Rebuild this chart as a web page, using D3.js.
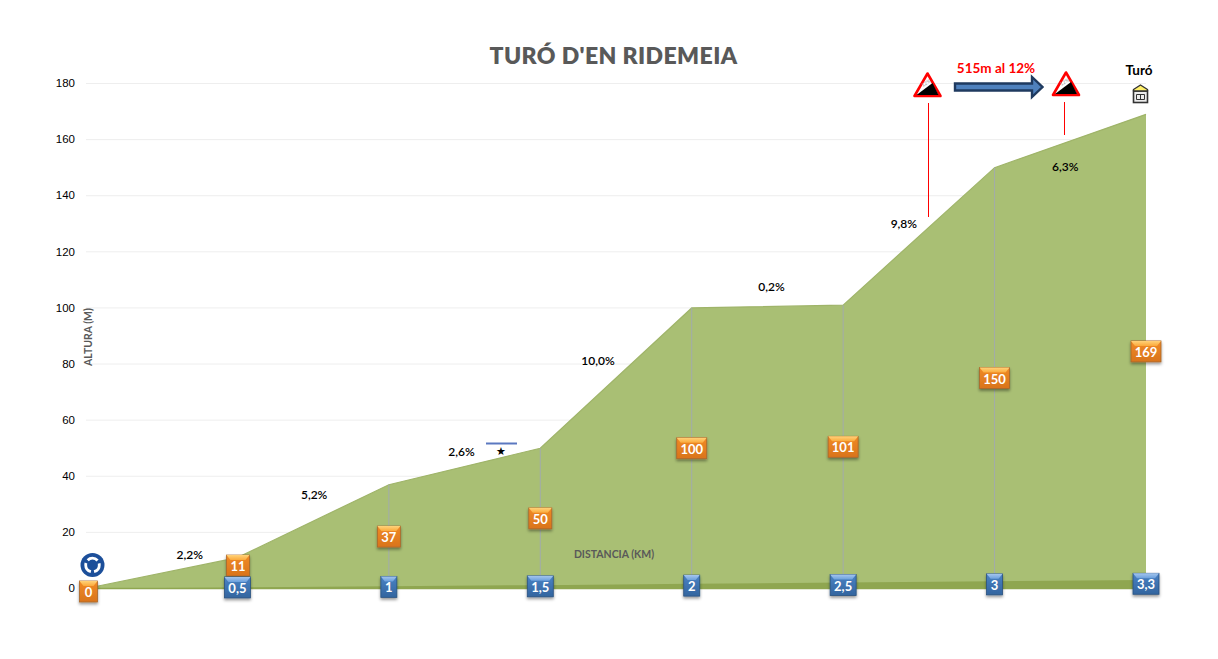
<!DOCTYPE html>
<html>
<head>
<meta charset="utf-8">
<script src="https://cdnjs.cloudflare.com/ajax/libs/d3/7.8.5/d3.min.js"></script>
<style>
    html, body { margin: 0; padding: 0; background: #fff; }
    svg { display: block; font-family: Lato, "Open Sans", sans-serif; }
</style>
</head>
<body>
<svg></svg>
<script>
const distances = ["0", "0,5", "1", "1,5", "2", "2,5", "3", "3,3"];
const heights = [0, 11, 37, 50, 100, 101, 150, 169];
const floorBand = [0, 0.4, 0.8, 1.2, 1.7, 2.1, 2.6, 3];
const slopes = ["2,2%", "5,2%", "2,6%", "10,0%", "0,2%", "9,8%", "6,3%"];
const yTicks = [0, 20, 40, 60, 80, 100, 120, 140, 160, 180];

const width = 1218;
const height = 659;

const svg = d3.select("svg").attr("width", width).attr("height", height);

const xScale = d3.scalePoint().domain(distances).range([86, 1146]);
const yScale = d3.scaleLinear().domain([0, 180]).range([588.5, 83.5]);

const defs = svg.append("defs");

//Box gradients, same look for both label families
const addGradient = (id, stops) => {
    const g = defs.append("linearGradient").attr("id", id)
        .attr("x1", 0).attr("x2", 0).attr("y1", 0).attr("y2", 1);
    stops.forEach(s => g.append("stop").attr("offset", s[0]).attr("stop-color", s[1]));
};
addGradient("orangeBox", [[0, "#f08a26"], [1, "#d9741c"]]);
addGradient("orangeTop", [[0, "#ffd27a"], [1, "#fba93a"]]);
addGradient("blueBox", [[0, "#4a82c4"], [1, "#33659f"]]);
addGradient("blueTop", [[0, "#a5c6ee"], [1, "#6a9fdc"]]);

const shadow = defs.append("filter").attr("id", "boxShadow")
    .attr("x", "-30%").attr("y", "-30%").attr("width", "160%").attr("height", "170%");
shadow.append("feDropShadow").attr("dx", 0).attr("dy", 2).attr("stdDeviation", 1.6)
    .attr("flood-color", "#000").attr("flood-opacity", 0.4);

//Grid and y axis
const yAxis = d3.axisLeft(yScale)
    .tickValues(yTicks)
    .tickSize(-(1146 - 86))
    .tickPadding(11)
    .offset(0);

const yAxisGroup = svg.append("g")
    .attr("transform", "translate(86, 0)")
    .call(yAxis);
yAxisGroup.select(".domain").remove();
yAxisGroup.selectAll(".tick line").attr("stroke", "#eeeeee");
yAxisGroup.selectAll(".tick text")
    .attr("fill", "#000")
    .style("font-size", "11.5px");

//Profile
const area = d3.area()
    .x((d, i) => xScale(distances[i]))
    .y0(yScale(0))
    .y1(d => yScale(d));

svg.append("path")
    .datum(heights)
    .attr("d", area)
    .attr("fill", "#a9bf74");

svg.append("path")
    .datum(heights)
    .attr("d", d3.line().x((d, i) => xScale(distances[i])).y(d => yScale(d)))
    .attr("fill", "none")
    .attr("stroke", "#9fb469")
    .attr("stroke-width", 1.2);

//Darker band along the base
svg.append("path")
    .datum(floorBand)
    .attr("d", area)
    .attr("fill", "#8fa650");

svg.append("line")
    .attr("x1", xScale("0")).attr("x2", xScale("3,3"))
    .attr("y1", yScale(0)).attr("y2", yScale(0))
    .attr("stroke", "#8fa650").attr("stroke-width", 1.5);

//Drop lines
svg.selectAll(".drop")
    .data(distances.slice(1, 7))
    .enter()
    .append("line")
    .attr("class", "drop")
    .attr("x1", d => xScale(d))
    .attr("x2", d => xScale(d))
    .attr("y1", (d, i) => yScale(heights[i + 1]))
    .attr("y2", yScale(0))
    .attr("stroke", "#a3abab")
    .attr("stroke-width", 1);

//Title and axis titles
svg.append("text")
    .attr("x", 613.5)
    .attr("y", 63.5)
    .attr("text-anchor", "middle")
    .attr("fill", "#595959")
    .style("font-size", "23px")
    .style("font-weight", 800)
    .style("letter-spacing", "0.4px")
    .text("TURÓ D'EN RIDEMEIA");

svg.append("text")
    .attr("transform", "translate(92, 337) rotate(-90)")
    .attr("text-anchor", "middle")
    .attr("fill", "#595959")
    .style("font-size", "10.5px")
    .style("font-weight", 700)
    .text("ALTURA (M)");

svg.append("text")
    .attr("x", 614)
    .attr("y", 558)
    .attr("text-anchor", "middle")
    .attr("fill", "#595959")
    .style("font-size", "10.5px")
    .style("font-weight", 700)
    .text("DISTANCIA (KM)");

//Slope labels: shifted by hand from the segment middle, like the original
const slopeShift = [[28, -17], [1, -25], [-3, -14], [-18, -16], [4, -19], [-15, -11], [-5, 27]];
svg.selectAll(".slope")
    .data(slopes)
    .enter()
    .append("text")
    .attr("class", "slope")
    .attr("x", (d, i) => (xScale(distances[i]) + xScale(distances[i + 1])) / 2 + slopeShift[i][0])
    .attr("y", (d, i) => yScale((heights[i] + heights[i + 1]) / 2) + slopeShift[i][1])
    .attr("text-anchor", "middle")
    .attr("dominant-baseline", "middle")
    .attr("fill", "#000")
    .style("font-size", "12px")
    .style("font-weight", 600)
    .text(d => d);

//Boxed data labels with the bevelled top
const drawBox = (label, cx, cy, w, h, family) => {
    const g = svg.append("g").attr("transform", "translate(" + cx + ", " + cy + ")");
    g.append("rect")
        .attr("x", -w / 2).attr("y", -h / 2)
        .attr("width", w).attr("height", h)
        .attr("fill", "url(#" + family + "Box)")
        .attr("stroke", family === "orange" ? "#a9662c" : "#2a527f")
        .attr("stroke-width", 0.8)
        .attr("filter", "url(#boxShadow)");
    g.append("path")
        .attr("d", "M" + (-w / 2) + "," + (-h / 2) + " H" + (w / 2) + " L" + (w / 2 - 4) + "," + (-h / 2 + 5) + " H" + (-w / 2 + 4) + " Z")
        .attr("fill", "url(#" + family + "Top)");
    g.append("text")
        .attr("y", 5.5)
        .attr("text-anchor", "middle")
        .attr("fill", "#fff")
        .style("font-size", "13px")
        .style("font-weight", 700)
        .text(label);
};

const boxWidth = (label) => label.length === 1 ? 18 : label.length === 2 ? 23 : 30;

heights.forEach((v, i) => {
    const dy = i === 0 ? 3 : i === 1 ? -7.5 : 0;
    const dx = i === 0 ? 2.5 : i === 1 ? 0.5 : 0;
    const label = String(v);
    drawBox(label, xScale(distances[i]) + dx, yScale(v / 2) + dy, boxWidth(label), 21, "orange");
});

distances.slice(1).forEach((d, i) => {
    const w = d.length === 1 ? 16 : 26;
    drawBox(d, xScale(d), yScale(floorBand[i + 1] / 2) - 0.5, w, 21, "blue");
});

//Start icon
const startIcon = svg.append("g").attr("transform", "translate(92.5, 565)");
startIcon.append("circle").attr("r", 12).attr("fill", "#1c4f9a");
startIcon.append("circle").attr("r", 6.8)
    .attr("fill", "none")
    .attr("stroke", "#fff")
    .attr("stroke-width", 2.8)
    .attr("stroke-dasharray", "11 3.25")
    .attr("stroke-dashoffset", 2);

//Steep sign
const drawSign = (cx, cy) => {
    const g = svg.append("g").attr("transform", "translate(" + cx + ", " + cy + ")");
    g.append("path").attr("d", "M0,-11 L13,11.5 L-13,11.5 Z")
        .attr("fill", "#fff").attr("stroke", "#f00")
        .attr("stroke-width", 2.6).attr("stroke-linejoin", "round");
    g.append("path").attr("d", "M-11,10.5 L11,10.5 L5,-1.5 Z").attr("fill", "#000");
    g.append("text")
        .attr("transform", "translate(-0.5, 0) rotate(-32)")
        .attr("text-anchor", "middle")
        .attr("fill", "#999")
        .style("font-size", "5px")
        .text("12%");
};
drawSign(927.5, 84.5);
drawSign(1066, 83.5);

//Red markers
svg.append("line").attr("x1", 928.5).attr("x2", 928.5).attr("y1", 103).attr("y2", 217)
    .attr("stroke", "#f00").attr("stroke-width", 1);
svg.append("line").attr("x1", 1064.5).attr("x2", 1064.5).attr("y1", 102).attr("y2", 135)
    .attr("stroke", "#f00").attr("stroke-width", 1);

//Arrow
svg.append("path")
    .attr("d", "M955,83.5 H1032 V77 L1042.5,87 L1032,97 V90.5 H955 Z")
    .attr("fill", "#4f81bd")
    .attr("stroke", "#1f3a5f")
    .attr("stroke-width", 2.4);

svg.append("text")
    .attr("x", 996)
    .attr("y", 73)
    .attr("text-anchor", "middle")
    .attr("fill", "#f00")
    .style("font-size", "13.5px")
    .style("font-weight", 700)
    .text("515m al 12%");

//Summit
svg.append("text")
    .attr("x", 1139)
    .attr("y", 75)
    .attr("text-anchor", "middle")
    .attr("fill", "#000")
    .style("font-size", "13.5px")
    .style("font-weight", 700)
    .text("Turó");

const summit = svg.append("g").attr("transform", "translate(1140.5, 94)");
summit.append("rect").attr("x", -7).attr("y", -3).attr("width", 14).attr("height", 11.5)
    .attr("fill", "#ececec").attr("stroke", "#333").attr("stroke-width", 1.6);
summit.append("path").attr("d", "M-7,-3 V-4.5 L0,-9 L7,-4.5 V-3 Z")
    .attr("fill", "#fff06a").attr("stroke", "#333").attr("stroke-width", 1.4)
    .attr("stroke-linejoin", "round");
summit.append("path").attr("d", "M-4,0.5 H4 V5.5 H-4 Z M0,0.5 V5.5")
    .attr("fill", "none").attr("stroke", "#333").attr("stroke-width", 1);

//Marker above 1,5 km
svg.append("line").attr("x1", 486).attr("x2", 517).attr("y1", 443.5).attr("y2", 443.5)
    .attr("stroke", "#5b78c0").attr("stroke-width", 2);
svg.append("text")
    .attr("x", 501)
    .attr("y", 455)
    .attr("text-anchor", "middle")
    .attr("fill", "#000")
    .style("font-size", "11px")
    .text("★");
</script>
</body>
</html>
